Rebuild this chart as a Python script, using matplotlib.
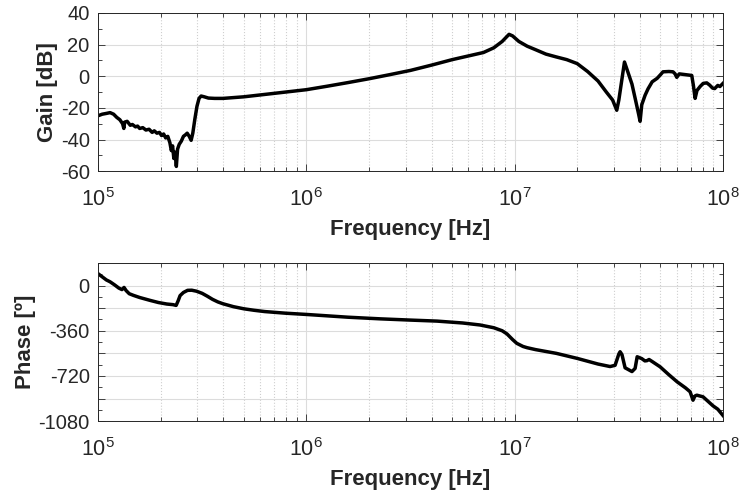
import numpy as np
import matplotlib.pyplot as plt
from matplotlib.ticker import MultipleLocator, FuncFormatter, LogLocator, NullFormatter

# =====================================================
#   measured frequency response (read off the figure)
# =====================================================

# log10 of frequency [Hz] and gain [dB]
gain_logf = [5.000, 5.020, 5.040, 5.058, 5.075, 5.090, 5.105, 5.118, 5.124, 5.128,
             5.140, 5.155, 5.165, 5.180, 5.190, 5.200, 5.215, 5.230, 5.245, 5.260,
             5.270, 5.283, 5.295, 5.305, 5.315, 5.325, 5.335, 5.345, 5.352, 5.358,
             5.364, 5.370, 5.376, 5.382, 5.390, 5.400, 5.410, 5.420, 5.428, 5.438,
             5.447, 5.455, 5.465, 5.475, 5.485, 5.495, 5.510, 5.530, 5.560, 5.600,
             5.700, 5.800, 5.900, 6.000, 6.100, 6.200, 6.300, 6.400, 6.500, 6.600,
             6.700, 6.800, 6.850, 6.900, 6.940, 6.973, 6.990, 7.020, 7.060, 7.100,
             7.150, 7.200, 7.250, 7.300, 7.350, 7.400, 7.440, 7.470, 7.490, 7.500,
             7.527, 7.540, 7.563, 7.580, 7.595, 7.602, 7.610, 7.626, 7.640, 7.660,
             7.684, 7.700, 7.712, 7.740, 7.760, 7.770, 7.778, 7.790, 7.820, 7.850,
             7.858, 7.866, 7.875, 7.890, 7.905, 7.922, 7.935, 7.950, 7.960, 7.975,
             7.985, 8.000]
gain_db = [-25, -24, -23.5, -23, -24, -26, -27.5, -30, -33, -29,
           -28.5, -31, -30.5, -32, -31.5, -33, -32.5, -34, -33.5, -35.5,
           -34.5, -36, -35.5, -37.5, -36.5, -39, -38, -42, -47, -44,
           -52, -48, -57, -46, -43, -41, -38, -37, -36, -38,
           -40.5, -36, -27, -19, -14, -12.5, -13, -13.8, -14, -14,
           -13, -11.5, -10, -8.5, -6.3, -4, -1.6, 1, 3.7, 7,
           10.5, 13.5, 15, 18, 22, 26.5, 25.5, 22, 19, 16.8,
           14, 12.2, 10.5, 8, 3, -3, -10, -15, -21.5, -15,
           9, 4, -5, -15, -24, -28.5, -18, -12, -8, -3.5,
           -1.3, 1, 2.8, 3, 2.8, 1.5, -0.7, 1.5, 1, 0.5,
           -6, -14, -9, -6.5, -4.5, -4.2, -5.5, -7.5, -7.8, -5.8,
           -6.5, -4.5]

# log10 of frequency [Hz] and phase [deg]
phase_logf = [5.000, 5.020, 5.040, 5.058, 5.080, 5.100, 5.115, 5.125, 5.135, 5.150,
              5.170, 5.200, 5.250, 5.290, 5.330, 5.360, 5.375, 5.385, 5.394, 5.410,
              5.430, 5.450, 5.473, 5.500, 5.525, 5.550, 5.575, 5.600, 5.650, 5.700,
              5.750, 5.800, 5.900, 6.000, 6.200, 6.354, 6.500, 6.627, 6.750, 6.834,
              6.900, 6.940, 6.963, 6.990, 7.010, 7.040, 7.060, 7.100, 7.200, 7.300,
              7.400, 7.458, 7.482, 7.500, 7.506, 7.515, 7.530, 7.563, 7.578, 7.588,
              7.600, 7.610, 7.625, 7.635, 7.645, 7.660, 7.698, 7.740, 7.780, 7.820,
              7.842, 7.856, 7.865, 7.874, 7.890, 7.904, 7.930, 7.952, 7.975, 8.000]
phase_deg = [95, 70, 45, 30, 5, -20, -32, -15, -40, -65,
             -78, -95, -118, -135, -147, -152, -158, -120, -80, -55,
             -38, -37, -45, -62, -85, -110, -130, -145, -168, -185,
             -197, -207, -220, -230, -252, -265, -275, -283, -298, -314,
             -336, -360, -385, -430, -460, -485, -495, -510, -540, -580,
             -625, -645, -635, -545, -527, -550, -655, -685, -660, -567,
             -575, -582, -600, -598, -589, -605, -647, -710, -767, -815,
             -846, -913, -880, -873, -880, -886, -925, -958, -985, -1035]

# =====================================================
#   plotting
# =====================================================

plt.rcParams['font.family'] = ['Liberation Sans', 'DejaVu Sans']
plt.rcParams['axes.unicode_minus'] = False
plt.rcParams['mathtext.fontset'] = 'custom'
plt.rcParams['mathtext.rm'] = 'Liberation Sans'
plt.rcParams['mathtext.it'] = 'Liberation Sans:italic'
plt.rcParams['mathtext.bf'] = 'Liberation Sans:bold'
txt = '#262626'

fig = plt.figure(figsize=(7.43, 4.99), dpi=100)
ax1 = fig.add_axes([0.1319, 0.657, 0.8412, 0.317])
ax2 = fig.add_axes([0.1319, 0.156, 0.8412, 0.317])

ax1.semilogx(10 ** np.array(gain_logf), gain_db, color='black', linewidth=2.5)
ax2.semilogx(10 ** np.array(phase_logf), phase_deg, color='black', linewidth=2.5)

ax1.set_ylim(-60, 40)
ax1.yaxis.set_major_locator(MultipleLocator(20))
ax1.yaxis.set_minor_locator(MultipleLocator(10))
ax1.set_ylabel('Gain [dB]', fontsize=16, fontweight='bold', color=txt, labelpad=2)

ax2.set_ylim(-1080, 180)
ax2.yaxis.set_major_locator(MultipleLocator(180))
ax2.yaxis.set_minor_locator(MultipleLocator(90))
ax2.yaxis.set_major_formatter(FuncFormatter(
    lambda v, p: '%d' % v if abs(v) % 360 == 0 else ''))
ax2.set_ylabel('Phase [º]', fontsize=16, fontweight='bold', color=txt, labelpad=2)

for ax in (ax1, ax2):
    ax.set_xlim(1e5, 1e8)
    ax.xaxis.set_major_locator(LogLocator(base=10, numticks=10))
    ax.xaxis.set_minor_locator(LogLocator(base=10, subs=np.arange(2, 10), numticks=10))
    ax.xaxis.set_minor_formatter(NullFormatter())
    ax.set_xlabel('Frequency [Hz]', fontsize=16, fontweight='bold', color=txt, labelpad=6)
    ax.grid(True, which='major', color='#dcdcdc', linewidth=0.8)
    ax.grid(True, which='minor', axis='x', color='#cfcfcf', linestyle=':', linewidth=0.8)
    ax.set_axisbelow(True)
    ax.tick_params(which='both', direction='in', top=True, right=True,
                   colors=txt, width=0.6)
    ax.tick_params(axis='y', labelsize=14.5, pad=6)
    ax.tick_params(axis='x', labelsize=15.5, pad=12)
    ax.tick_params(which='major', length=5)
    ax.tick_params(which='minor', length=3)
    for s in ax.spines.values():
        s.set_color(txt)
        s.set_linewidth(0.7)

plt.savefig('out.png', dpi=100)
plt.close()
